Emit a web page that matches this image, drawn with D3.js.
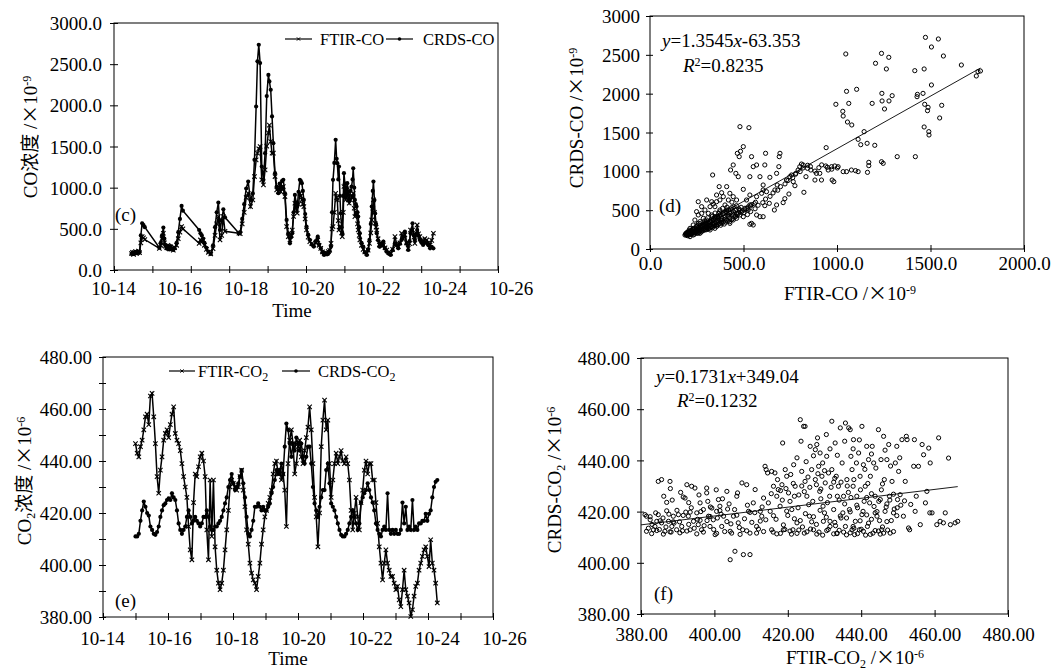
<!DOCTYPE html>
<html><head><meta charset="utf-8">
<script src="https://cdn.jsdelivr.net/npm/d3@7"></script>
<style>
body{margin:0;background:#fff}
svg{display:block}
</style>
</head><body>
<svg id="chart" width="1058" height="670"></svg>
<script>
// ---------------- DATA ----------------
const dayTickValues = [14, 16, 18, 20, 22, 24, 26];
const dayTickLabels = ["10-14", "10-16", "10-18", "10-20", "10-22", "10-24", "10-26"];

// Panel (c): CO time series (day of October, FTIR, CRDS in 1e-9)
const coTime = [
 14.56,14.59,14.62,14.65,14.68,14.71,14.74,14.77,14.80,14.84,
 14.88,14.92,14.96,15.40,15.44,15.48,15.52,15.55,15.58,15.62,
 15.66,15.70,15.74,15.78,15.82,15.86,15.92,15.97,16.02,16.07,
 16.11,16.60,16.64,16.68,16.72,16.76,16.82,16.88,16.95,17.02,
 17.08,17.13,17.18,17.23,17.28,17.33,17.38,17.80,17.84,17.90,
 17.96,18.02,18.08,18.15,18.22,18.27,18.32,18.36,18.40,18.44,
 18.49,18.54,18.59,18.64,18.69,18.72,18.76,18.80,18.84,18.89,
 18.94,18.99,19.03,19.06,19.10,19.14,19.19,19.24,19.29,19.34,
 19.38,19.41,19.45,19.49,19.53,19.56,19.60,19.64,19.67,19.70,
 19.73,19.76,19.80,19.84,19.89,19.94,20.00,20.06,20.12,20.18,
 20.22,20.27,20.32,20.37,20.42,20.46,20.50,20.54,20.58,20.61,
 20.64,20.68,20.72,20.75,20.77,20.80,20.82,20.85,20.87,20.90,
 20.92,20.95,20.97,21.00,21.02,21.05,21.07,21.10,21.13,21.17,
 21.20,21.23,21.25,21.28,21.30,21.33,21.35,21.38,21.40,21.43,
 21.45,21.50,21.55,21.60,21.66,21.70,21.74,21.78,21.81,21.84,
 21.86,21.89,21.91,21.94,21.96,22.00,22.04,22.08,22.12,22.16,
 22.21,22.26,22.32,22.38,22.44,22.51,22.56,22.61,22.66,22.71,
 22.76,22.81,22.86,22.91,22.95,22.98,23.04,23.08,23.11,23.15,
 23.18,23.22,23.26,23.31,23.36,23.41,23.47,23.52,23.57,23.62,23.67];
const coFTIR = [
 200,215,190,210,225,200,215,230,210,330,
 405,390,370,263,300,380,446,330,290,270,
 300,255,280,265,240,270,300,380,460,527,
 500,324,365,340,365,300,250,215,195,260,
 420,560,649,365,420,650,470,446,440,560,
 700,880,930,770,850,1135,1338,1420,1473,1500,
 1095,1034,1216,1505,1665,1760,1560,1419,1419,1135,
 973,953,1000,953,980,1014,892,527,405,365,
 420,486,650,811,740,689,800,932,900,851,
 800,770,620,486,400,345,320,304,330,365,
 300,263,220,203,210,200,223,240,324,500,
 527,700,932,880,851,600,486,520,527,450,
 405,700,1014,900,851,900,973,850,811,850,
 900,880,932,750,649,700,689,560,486,420,
 365,300,250,220,203,240,324,450,608,750,
 851,700,568,520,486,380,304,330,290,304,
 270,243,215,203,250,405,320,284,330,446,
 380,426,330,263,320,486,486,400,324,420,
 547,440,405,360,345,380,365,330,304,360,446];
const coCRDS = [
 195,210,205,200,215,220,205,225,215,420,
 568,545,520,270,330,420,515,380,300,260,
 285,250,290,255,245,265,330,460,620,778,
 720,486,446,420,380,330,270,225,195,300,
 520,700,819,486,600,738,640,446,460,620,
 800,990,1074,850,930,1338,1986,2534,2736,2513,
 1257,1095,1419,2112,2369,2290,2189,1865,1540,1176,
 1014,932,1050,1014,1080,1095,932,608,446,324,
 400,446,700,912,820,770,950,1095,1080,1054,
 960,851,680,527,430,365,310,284,350,405,
 310,263,215,182,195,190,203,230,284,700,
 1095,1300,1581,1350,1297,1100,1257,900,689,520,
 446,900,1176,1050,932,1000,1054,950,851,960,
 1014,1100,1236,1000,851,800,770,700,649,520,
 446,330,284,215,182,250,365,560,770,960,
 1074,850,689,560,446,360,284,320,300,345,
 260,223,200,182,240,324,300,263,320,365,
 400,466,320,243,350,446,568,420,365,440,
 486,420,365,330,304,340,324,300,263,280,263];

// Panel (e): CO2 time series, regular sampling (~1.19 h) from 10-15 00:00
const co2StartDay = 15.0;
const co2StepDay = 0.0495;
const co2FTIR = [
 446.7,443,441.6,445.5,448,452,457,458,454,465,
 466,457,446.7,434,427.6,436.5,441.6,448,450.6,452,
 449,454,458,460.8,450.6,448,446.7,444,439,434,
 430,426,414.8,405.8,402,424,435,434,437.8,441.6,
 443,440,434,413.5,402,432.7,411,432.7,407,398,
 393,390.5,393,398,405.8,413.5,421,430,432.7,431.4,
 430,428.8,430,434,436.5,428.8,422.4,413.5,408,400.7,
 396.9,394.3,393,390.5,395.6,400.7,408,413.5,418.5,421,
 423.7,426,428.8,435,439,440,435,436.5,432.7,435,
 428.8,414.8,439,448,452,446.7,435,439,445.5,448,
 441.6,439,444,449,453,460.8,452,439,426,418.5,
 407,420,445.5,455.7,463.4,452,455.7,439,426,432.7,
 439,443,439,441.6,444,440,439,441.6,439,432.7,
 421,413.5,420,426,418.5,413.5,424,428.8,436.5,440,
 435,439,439,432.7,432.7,424,416,407,400.7,394.3,
 400.7,405.8,400.7,398,395.6,395.6,393,390.5,391.8,386.6,
 384,390.5,398,390.5,388,385.4,380.2,382.8,388,391.8,
 393,398,400.7,403.3,405.8,407,403.3,399.4,409.7,400.7,
 398,393,385.4];
const co2CRDS = [
 411,411,412,417,421,424.4,422.4,420,419,414.8,
 413.5,412,411.6,412.7,414.8,418.5,421,423,423.7,425,
 425.6,425,427.6,426,425,421,416,413.5,412,413.5,
 414.8,418.5,421,418.5,416,417,418.5,417,416,414.8,
 416,418.5,418.5,421,418.5,414.8,413.5,413.5,414.8,414.8,
 416,417,418.5,421,423.7,426,430,432.7,435,431.4,
 428.8,430,431.4,434,436.5,431.4,426,418.5,412,411,
 413.5,417,422.4,422.4,423.7,422.4,421,422.4,421,421,
 422.4,423.7,427.6,430,432.7,436.5,435,436.5,439,435,
 445.5,454.4,452,446.7,441.6,446.7,444,449,446.7,444,
 446.7,441.6,439,441.6,445.5,445.5,439,430,423.7,421,
 418.5,422.4,426,428.8,428.8,436.5,439,431.4,423.7,422.4,
 421,418.5,416,413.5,411.6,411,411,412,413.5,416,
 418.5,421,418.5,416,413.5,416,424,426,427.6,428.8,
 431.4,428.8,426,424,421,416,413.5,412,411,413.5,
 414.8,413.5,427.6,413.5,412,413.5,412,413.5,412,412,
 413.5,424,416,422.4,413.5,414.8,413.5,425,413.5,414.8,
 413.5,416,416,417,417,419.7,417,419.7,421,426,
 430,432,432.7];

// Panel (d): scatter FTIR-CO vs CRDS-CO [x, y]
const coScatter = [
 [1473,2725],[1542,2704],[1505,2601],[1569,2485],[1466,2318],[1416,2296],[1665,2369],[1754,2283],[1767,2292],[1745,2228],
 [1505,2112],[1430,1991],[1428,1961],[1460,2004],[1469,1863],[1487,1824],[1484,1781],[1560,1850],[1549,1687],[1466,1571],
 [1491,1511],[1492,1468],[1419,1189],[1047,2511],[1051,2030],[1105,2056],[1206,2391],[1238,2519],[1277,2468],[1264,2318],
 [1240,2004],[1241,1906],[1295,1974],[1278,1906],[1254,1803],[1188,1875],[994,1863],[1063,1875],[1031,1773],[1033,1712],
 [1056,1635],[1079,1597],[1113,1412],[1145,1511],[1127,1343],[1161,1361],[1202,1335],[1322,1189],[1238,1124],[1247,1103],
 [1170,1116],[1170,1073],[1163,987],[1099,1009],[1051,996],[1033,996],[988,1069],[971,1060],[1006,1060],[953,1017],
 [974,888],[983,867],[942,1305],[940,1069],[908,974],[917,888],[882,888],[890,974],[860,1017],[842,1039],
 [819,1082],[810,1094],[801,1060],[834,931],[823,730],[780,974],[775,815],[757,953],[743,708],[721,648],
 [712,597],[689,1060],[695,1232],[691,1189],[677,974],[680,824],[668,760],[641,923],[618,1232],[614,1082],
 [605,824],[588,931],[570,1082],[552,1060],[543,1189],[534,931],[499,1318],[484,1258],[467,1232],[477,1189],
 [481,1575],[529,1562],[335,953],[431,1017],[472,931],[445,1082],[459,974],[410,803],[383,725],[370,803],
 [499,768],[534,695],[570,674],[597,717],[605,760],[623,738],[614,558],[605,416],[588,416],[570,438],
 [665,502],[677,567],[638,588],[445,674],[463,631],[427,717],[419,631],[392,674],[338,579],[347,545],
 [321,545],[534,318],[543,330],[552,309],[499,416],[481,438],[463,459],[454,425],[427,459],[410,502],
 [508,524],[525,502],[534,567],[516,631],[356,609],[374,502],[392,459],[427,395],[410,373],[383,373],
 [365,395],[347,416],[330,438],[312,459],[294,502],[276,459],[249,481],[258,438],[285,395],[303,373],
 [321,352],[338,330],[356,309],[330,288],[303,279],[276,288],[258,330],[240,373],[231,309],[222,245],
 [214,223],[205,202],[196,180],[187,180],[205,180],[222,202],[240,223],[258,245],[276,245],[294,245],
 [312,266],[249,202],[267,202],[231,180],[214,159],[196,202],[285,309],[321,245],[347,266],[374,330],
 [392,352],[249,288],[267,352],[294,339],[231,266],[214,266],[427,330],[445,373],[463,395],[368,459],
 [401,567],[303,631],[330,609],[374,631],[276,545],[258,609],[356,695],[730,888],[748,931],[766,867],
 [792,1017],[1077,1017],[1113,996],[190,190],[201,196],[212,208],[219,217],[228,232],[243,238],[252,251],
 [262,258],[271,277],[282,288],[291,303],[298,318],[311,333],[322,338],[331,362],[342,377],[351,404],
 [362,418],[200,171],[221,188],[239,207],[261,214],[279,232],[302,249],[318,272],[341,297],[359,332],
 [381,348],[402,383],[418,421],[441,447],[209,243],[232,258],[251,302],[268,327],[292,362],[308,402],
 [333,418],[348,463],[372,478],[388,523],[412,538],[438,603],[462,557],[478,503],[502,468],[521,443],
 [538,482],[562,518],[578,563],[603,597],[618,643],[642,678],[658,722],[683,757],[698,803],[722,838],
 [738,882],[763,918],[778,963],[803,997],[818,1043],[843,1078],[858,1062],[882,1003],[903,1047],[918,1083],
 [948,1052],[972,1028],[1002,1043],
 [194,186],[206,193],[217,199],[226,207],[233,216],[247,224],[254,233],[266,243],[273,256],[287,263],
 [296,277],[304,284],[317,299],[324,311],[336,316],[346,334],[354,347],[367,358],[376,373],[384,392],
 [397,404],[404,421],[416,438],[427,456],[434,471],[446,478],[457,497],[463,512],[476,518],[487,537],
 [198,214],[207,227],[219,236],[227,249],[239,261],[247,272],[259,281],[267,296],[279,304],[289,319],
 [297,331],[309,343],[319,356],[327,371],[339,388],[347,399],[357,412],[369,423],[377,442],[389,453],
 [399,472],[407,483],[419,502],[429,513],[437,532],[449,544],[192,201],[203,209],[211,182],[223,196],
 [237,189],[245,211],[257,204],[263,229],[274,219],[286,241],[294,254],[307,267],[315,261],[327,286],
 [334,274],[347,302],[357,291],[364,316],[378,306],[385,331],[397,321],[404,346],[417,361],[425,352],
 [437,378],[444,396],[458,418],[467,441],[474,462],[488,473],[494,492],[507,503],[518,521],[524,541],
 [538,553],[544,572],[558,583],[564,602]];

// Panel (f): scatter FTIR-CO2 vs CRDS-CO2 [x, y]
const co2Scatter = [
 [381.1,418.8],[381.5,418.2],[382.5,416.8],[383.4,412.9],[383.8,414.2],[384.3,416.2],[384.7,431.8],[385.6,432.5],[384.7,418.8],[385.6,415.6],
 [386.5,412.3],[387.0,423.6],[387.9,431.8],[387.5,416.2],[388.4,414.2],[388.8,418.2],[389.7,412.9],[390.2,418.8],[391.1,414.2],[391.5,425.7],
 [392.0,425.3],[392.5,430.5],[392.9,418.2],[393.4,412.9],[393.8,429.9],[394.3,416.2],[394.7,429.2],[395.2,419.5],[395.6,414.9],[396.1,423.4],
 [396.5,412.9],[397.0,420.8],[397.9,429.2],[397.9,427.3],[398.4,418.2],[398.8,414.2],[399.3,421.4],[399.7,416.8],[400.2,411.0],[400.6,420.1],
 [401.1,424.7],[401.5,422.1],[402.0,414.2],[402.5,418.2],[403.4,427.9],[404.3,401.2],[404.7,411.6],[405.2,418.2],[405.6,404.5],[406.1,426.0],
 [406.3,427.3],[406.5,415.6],[407.5,431.2],[407.7,412.9],[407.9,403.2],[408.8,430.5],[409.3,420.1],[409.7,403.2],[409.7,411.6],[410.6,423.4],
 [411.1,428.6],[411.5,414.2],[412.5,420.1],[412.9,418.2],[413.4,425.3],[413.8,437.7],[414.1,436.4],[414.5,435.1],[414.7,423.4],[415.2,420.1],
 [415.6,435.7],[415.6,412.9],[416.1,429.9],[416.5,435.1],[417.0,426.0],[417.4,428.6],[417.9,422.1],[418.4,430.5],[418.6,446.8],[418.8,412.9],
 [419.3,436.4],[419.7,433.8],[420.2,427.3],[420.6,424.0],[421.1,420.8],[421.4,412.9],[421.6,438.3],[422.0,429.9],[422.5,415.6],[423.4,455.9],
 [423.6,447.5],[423.8,435.7],[424.3,453.3],[424.7,453.3],[424.7,431.8],[425.2,426.0],[425.7,422.7],[425.9,418.2],[426.1,445.5],[426.5,436.4],
 [427.0,412.9],[427.5,444.2],[427.5,432.5],[427.9,446.2],[428.1,448.8],[428.4,437.7],[428.7,427.9],[428.8,442.9],[429.3,433.8],[429.6,422.1],
 [429.7,416.2],[430.2,431.2],[430.5,450.1],[430.6,441.6],[431.1,435.1],[431.4,426.0],[431.5,414.2],[432.0,455.3],[432.0,436.4],[432.5,420.8],
 [432.9,446.8],[433.2,433.8],[433.4,411.6],[433.8,429.9],[434.3,452.7],[434.5,417.5],[434.8,439.0],[435.2,426.0],[435.7,454.6],[435.7,414.2],
 [436.1,432.5],[436.6,452.7],[436.8,420.8],[437.0,452.0],[437.2,441.6],[437.5,436.4],[437.8,429.9],[437.9,448.1],[438.2,411.0],[438.4,416.2],
 [438.7,439.0],[438.8,426.0],[439.3,442.9],[439.5,412.9],[439.7,433.8],[440.2,453.3],[440.5,420.1],[440.6,438.3],[441.1,429.9],[441.5,445.5],
 [441.7,414.2],[442.0,440.3],[442.3,423.4],[442.5,433.8],[443.0,445.5],[443.2,411.6],[443.4,439.0],[443.8,426.0],[444.3,418.2],[444.7,452.0],
 [445.2,424.7],[445.4,440.3],[445.6,412.9],[446.1,449.4],[446.3,432.5],[446.5,420.1],[447.0,440.3],[447.5,446.2],[447.7,426.0],[447.9,411.6],
 [448.4,431.8],[448.8,419.5],[449.3,439.0],[449.7,445.5],[449.9,424.7],[450.2,435.7],[450.6,426.6],[451.1,448.1],[451.5,418.2],[452.0,431.8],
 [452.3,449.4],[452.5,448.1],[452.9,413.6],[453.2,412.9],[454.3,437.7],[454.5,448.1],[454.7,420.1],[455.6,437.7],[456.1,414.9],[456.6,446.2],
 [457.0,442.2],[457.5,423.4],[457.9,427.9],[458.4,444.8],[458.7,419.5],[458.8,439.0],[459.3,419.5],[460.6,414.9],[461.1,448.8],[461.5,416.2],
 [462.4,415.6],[462.9,419.5],[463.8,440.9],[464.3,414.9],[465.6,415.6],[466.3,416.2],
 [381.5,412.3],[382.9,411.4],[384.3,412.6],[386.1,411.2],[387.9,412.1],[390.6,411.7],[392.5,412.4],[395.2,411.3],[397.0,412.0],[400.6,411.5],
 [404.3,412.3],[407.0,411.1],[408.8,412.5],[411.5,411.6],[413.4,412.2],[417.0,411.3],[420.6,412.4],[422.5,411.5],[425.2,412.1],[427.9,411.2],
 [430.6,412.6],[433.4,411.4],[435.2,412.0],[437.0,411.7],[440.6,412.3],[442.5,411.1],[444.7,412.4],[446.1,411.6],[448.8,412.2],
 [382.5,418.0],[385.2,416.4],[387.0,420.3],[388.8,416.0],[391.5,418.5],[393.4,419.8],[396.1,416.6],[398.8,418.1],[401.5,420.4],[403.4,416.1],
 [406.1,418.6],[409.7,419.7],[412.5,416.3],[416.1,418.4],[419.7,420.2],[423.4,416.5],[427.0,418.0],[428.8,420.5],[431.5,416.2],[434.3,418.3],
 [437.0,419.9],[439.7,416.4],[441.5,418.7],[444.3,420.0],[447.0,416.1],[449.7,418.4],
 [418.0,428.2],[421.5,431.0],[423.0,426.5],[426.0,429.5],[429.0,425.0],[432.5,431.5],[434.0,424.5],[436.5,427.5],[439.0,421.5],[441.5,425.5],
 [443.5,422.0],[445.5,428.5],[447.0,423.0],[449.0,421.0],[420.0,418.5],[424.0,414.0],[426.5,416.0],[430.0,419.5],[433.0,414.5],[436.0,417.5],
 [438.0,413.5],[442.0,415.5],[445.0,416.5],
 [382.0,413.5],[383.0,415.0],[384.0,419.5],[385.0,413.0],[386.0,417.5],[386.8,414.0],[387.6,419.0],[388.2,412.0],[389.0,415.5],[389.8,420.5],
 [390.5,416.0],[391.3,412.5],[392.2,419.8],[393.0,415.0],[393.7,421.5],[394.5,413.5],[395.4,417.0],[396.3,420.0],[397.2,414.5],[398.0,416.5],
 [398.9,421.8],[399.8,413.0],[400.8,417.5],[401.8,419.0],[402.8,412.2],[403.6,421.0],[404.5,415.2],[405.5,420.8],[406.8,413.8],[408.2,417.2],
 [409.0,422.5],[410.2,415.8],[411.0,419.6],[412.0,413.2],[413.0,421.8],[414.0,416.8],
 [386.2,426.0],[388.5,424.5],[390.8,427.5],[393.0,423.5],[395.8,426.5],[398.2,424.0],[400.5,428.5],[402.2,425.0],[404.0,423.0],[388.0,429.0],
 [416.0,412.0],[418.0,411.5],[419.2,413.0],[421.0,411.2],[423.0,412.8],[424.5,411.6],[426.2,413.2],[428.5,412.0],[429.5,410.8],[431.0,413.0],
 [432.5,411.3],[434.0,412.7],[436.0,410.9],[437.5,412.9],[439.0,411.4],[440.0,413.1],[441.2,410.8],[443.8,412.6],[445.2,411.2],[447.2,412.8],
 [415.5,427.0],[417.2,432.5],[418.5,424.5],[419.5,429.0],[420.8,434.5],[421.8,426.0],[422.8,421.5],[423.8,430.0],[424.5,427.8],[425.5,433.5],
 [426.8,424.0],[427.8,430.5],[428.2,434.8],[429.0,428.8],[430.0,436.0],[430.8,423.5],[431.8,429.5],[432.8,433.0],[433.5,426.0],[434.5,431.5],
 [435.5,423.0],[436.2,430.0],[437.2,425.5],[438.0,432.5],[438.8,422.5],[439.8,428.5],[440.8,424.0],[441.8,431.0],[442.8,427.0],[443.8,419.5],
 [444.8,424.0],[445.8,430.8],[446.8,421.8],[447.8,424.5],[448.8,426.8],[449.8,421.5],[450.8,422.5],[451.8,424.2],[453.5,422.8],[455.0,426.0],
 [416.8,417.0],[418.8,414.8],[421.8,417.2],[424.8,419.2],[427.8,415.0],[430.5,417.8],[432.8,415.8],[435.0,419.5],[437.8,414.2],[440.2,418.8],
 [442.8,417.0],[445.8,414.0],[448.2,416.5],
 [422.5,441.0],[425.0,439.5],[427.0,441.8],[429.5,439.0],[431.5,444.5],[433.5,442.0],[435.5,447.5],[437.8,444.5],[439.5,448.0],[441.0,436.5],
 [442.8,442.5],[444.0,437.0],[446.5,444.0],[448.0,437.8],[450.5,441.0]];

// Regression fits shown on the chart
const coFit = {slope: 1.3545, intercept: -63.353, label: "1.3545", tail: "-63.353", r2: "0.8235"};
const co2Fit = {slope: 0.1731, intercept: 349.04, label: "0.1731", tail: "+349.04", r2: "0.1232"};

const coYTicks = [0, 500, 1000, 1500, 2000, 2500, 3000];
const coXTicksScatter = [0, 500, 1000, 1500, 2000];
const co2Ticks = [380, 400, 420, 440, 460, 480];

// ---------------- DRAWING ----------------
const SERIF = '"Liberation Serif","Times New Roman",serif';
const CJK = '"Noto Sans CJK SC","Noto Sans CJK JP",sans-serif';
const FS = 19;
const svg = d3.select("#chart").attr("font-family", SERIF);

function styleAxis(g, orient, inLen, outLen) {
  g.select(".domain").remove();
  g.attr("font-family", SERIF).attr("font-size", FS);
  g.selectAll("text").attr("fill", "#000");
  const l = g.selectAll(".tick line").attr("stroke", "#000").attr("stroke-width", 1);
  if (orient === "bottom") l.attr("y1", -inLen).attr("y2", outLen);
  else l.attr("x1", inLen).attr("x2", -outLen);
}
function frame(b) {
  svg.append("rect").attr("x", b.L).attr("y", b.T).attr("width", b.R - b.L).attr("height", b.B - b.T)
    .attr("fill", "none").attr("stroke", "#000").attr("stroke-width", 1);
}
function rich(sel, parts) {
  let shift = 0;
  parts.forEach(p => {
    const ts = sel.append("tspan").text(p.t);
    const target = p.sup ? -6.5 : (p.sub ? 4 : 0);
    if (target !== shift) { ts.attr("dy", target - shift); shift = target; }
    if (p.sup || p.sub) ts.attr("font-size", 12);
    if (p.cjk) ts.attr("font-family", CJK).attr("font-size", p.fs || 19);
    if (p.it) ts.attr("font-style", "italic");
  });
  return sel;
}
function label(x, y, parts, opts = {}) {
  const t = svg.append("text").attr("font-size", opts.fs || FS).attr("fill", "#000")
    .attr("text-anchor", opts.anchor || "start");
  if (opts.rotate) t.attr("transform", `translate(${x},${y}) rotate(-90)`);
  else t.attr("x", x).attr("y", y);
  return rich(t, parts);
}
function crossMarks(g, pts, size, sw) {
  g.selectAll("path.m").data(pts).join("path").attr("class", "m")
    .attr("d", d => `M${d[0]-size},${d[1]-size}L${d[0]+size},${d[1]+size}M${d[0]-size},${d[1]+size}L${d[0]+size},${d[1]-size}`)
    .attr("stroke", "#000").attr("stroke-width", sw || 1.1).attr("fill", "none");
}
function dotMarks(g, pts, r) {
  g.selectAll("circle.m").data(pts).join("circle").attr("class", "m")
    .attr("cx", d => d[0]).attr("cy", d => d[1]).attr("r", r).attr("fill", "#000");
}
function series(g, xs, ys, xScale, yScale, kind) {
  const pts = xs.map((t, i) => [xScale(t), yScale(ys[i])]);
  g.append("path").attr("d", d3.line()(pts)).attr("fill", "none").attr("stroke", "#000").attr("stroke-width", 1.5);
  const mg = g.append("g");
  if (kind === "x") crossMarks(mg, pts, 2.2, 1.1); else dotMarks(mg, pts, 2.1);
}
function legendItem(x1, x2, y, kind, tx, parts) {
  svg.append("line").attr("x1", x1).attr("x2", x2).attr("y1", y).attr("y2", y).attr("stroke", "#000").attr("stroke-width", 1.2);
  const g = svg.append("g");
  if (kind === "x") crossMarks(g, [[(x1 + x2) / 2, y]], 1.6, 1); else dotMarks(g, [[(x1 + x2) / 2, y]], 1.8);
  label(tx, y + 6, parts, {fs: 16.5});
}

// ===== Panel (c) =====
{
  const b = {L: 114, T: 23, R: 498, B: 270};
  const x = d3.scaleLinear().domain([14, 26]).range([113, 510.6]);
  const xTickMarks = d3.scaleLinear().domain([0, 10]).range([b.L, b.R]);
  const y = d3.scaleLinear().domain([0, 3000]).range([b.B, b.T]);
  const gl = svg.append("g").attr("transform", `translate(0,${b.B})`)
    .call(d3.axisBottom(x).tickValues(dayTickValues).tickFormat((d, i) => dayTickLabels[i]).tickSize(0));
  styleAxis(gl, "bottom", 0, 0);
  gl.selectAll("text").attr("y", 25).attr("dy", 0);
  gl.selectAll(".tick line").remove();
  const gt = svg.append("g").attr("transform", `translate(0,${b.B})`)
    .call(d3.axisBottom(xTickMarks).ticks(10).tickFormat(""));
  styleAxis(gt, "bottom", 4, 3);
  const gy = svg.append("g").attr("transform", `translate(${b.L},0)`)
    .call(d3.axisLeft(y).tickValues(coYTicks).tickFormat(d3.format(".1f")));
  styleAxis(gy, "left", 4, 4);
  gy.selectAll("text").attr("x", -12).attr("dy", "0.35em");
  frame(b);
  const g = svg.append("g");
  series(g, coTime, coFTIR, x, y, "x");
  series(g, coTime, coCRDS, x, y, "o");
  legendItem(285, 312, 39, "x", 320, [{t: "FTIR-CO"}]);
  legendItem(386, 413, 39, "o", 423, [{t: "CRDS-CO"}]);
  label(115, 221, [{t: "(c)"}]);
  label(292, 317, [{t: "Time"}], {anchor: "middle"});
  label(37, 137, [{t: "CO"}, {t: "浓度", cjk: true}, {t: " /"}, {t: "×", cjk: true}, {t: "10"}, {t: "-9", sup: true}], {anchor: "middle", rotate: true});
}

// ===== Panel (d) =====
{
  const b = {L: 650, T: 16, R: 1024, B: 249};
  const x = d3.scaleLinear().domain([0, 2000]).range([b.L, b.R]);
  const y = d3.scaleLinear().domain([0, 3000]).range([b.B, b.T]);
  const gx = svg.append("g").attr("transform", `translate(0,${b.B})`)
    .call(d3.axisBottom(x).tickValues(coXTicksScatter).tickFormat(d3.format(".1f")));
  styleAxis(gx, "bottom", 4, 3);
  gx.selectAll("text").attr("y", 21).attr("dy", 0);
  const gy = svg.append("g").attr("transform", `translate(${b.L},0)`)
    .call(d3.axisLeft(y).tickValues(coYTicks).tickFormat(d3.format("d")));
  styleAxis(gy, "left", 3, 4);
  gy.selectAll("text").attr("x", -10).attr("dy", "0.35em");
  frame(b);
  svg.append("g").selectAll("circle").data(coScatter).join("circle")
    .attr("cx", d => x(d[0])).attr("cy", d => y(d[1])).attr("r", 2.1)
    .attr("fill", "none").attr("stroke", "#000").attr("stroke-width", 1);
  const ext = d3.extent(coScatter, d => d[0]);
  svg.append("path").attr("d", d3.line()(ext.map(v => [x(v), y(coFit.slope * v + coFit.intercept)])))
    .attr("stroke", "#000").attr("stroke-width", 0.9).attr("fill", "none");
  label(662, 47, [{t: "y", it: true}, {t: "=" + coFit.label}, {t: "x", it: true}, {t: coFit.tail}]);
  label(683, 72, [{t: "R", it: true}, {t: "2", sup: true}, {t: "=" + coFit.r2}]);
  label(659, 212, [{t: "(d)"}]);
  label(850, 300, [{t: "FTIR-CO /"}, {t: "×", cjk: true}, {t: "10"}, {t: "-9", sup: true}], {anchor: "middle"});
  label(583, 118, [{t: "CRDS-CO /"}, {t: "×", cjk: true}, {t: "10"}, {t: "-9", sup: true}], {anchor: "middle", rotate: true});
}

// ===== Panel (e) =====
{
  const b = {L: 103, T: 357, R: 493, B: 617};
  const x = d3.scaleLinear().domain([14, 26]).range([102, 504]);
  const xTickMarks = d3.scaleLinear().domain([0, 12]).range([b.L, b.R]);
  const y = d3.scaleLinear().domain([380, 480]).range([b.B, b.T]);
  const gl = svg.append("g").attr("transform", `translate(0,${b.B})`)
    .call(d3.axisBottom(x).tickValues(dayTickValues).tickFormat((d, i) => dayTickLabels[i]).tickSize(0));
  styleAxis(gl, "bottom", 0, 0);
  gl.selectAll("text").attr("y", 28).attr("dy", 0);
  gl.selectAll(".tick line").remove();
  const gt = svg.append("g").attr("transform", `translate(0,${b.B})`)
    .call(d3.axisBottom(xTickMarks).ticks(12).tickFormat(""));
  styleAxis(gt, "bottom", 4, 3);
  const gy = svg.append("g").attr("transform", `translate(${b.L},0)`)
    .call(d3.axisLeft(y).tickValues(d3.range(380, 481, 10)).tickFormat(d => co2Ticks.includes(d) ? d3.format(".2f")(d) : ""));
  styleAxis(gy, "left", 3, 4);
  gy.selectAll("text").attr("x", -11).attr("dy", "0.35em");
  frame(b);
  const t = co2FTIR.map((_, i) => co2StartDay + i * co2StepDay);
  const g = svg.append("g");
  series(g, t, co2FTIR, x, y, "x");
  series(g, t, co2CRDS, x, y, "o");
  legendItem(169, 195, 371, "x", 198, [{t: "FTIR-CO"}, {t: "2", sub: true}]);
  legendItem(282, 310, 371, "o", 318, [{t: "CRDS-CO"}, {t: "2", sub: true}]);
  label(115, 607, [{t: "(e)"}]);
  label(288, 665, [{t: "Time"}], {anchor: "middle"});
  label(31, 481, [{t: "CO"}, {t: "2", sub: true}, {t: "浓度", cjk: true}, {t: " /"}, {t: "×", cjk: true}, {t: "10"}, {t: "-6", sup: true}], {anchor: "middle", rotate: true});
}

// ===== Panel (f) =====
{
  const b = {L: 641, T: 358, R: 1008, B: 614};
  const x = d3.scaleLinear().domain([380, 480]).range([b.L, b.R]);
  const y = d3.scaleLinear().domain([380, 480]).range([b.B, b.T]);
  const gx = svg.append("g").attr("transform", `translate(0,${b.B})`)
    .call(d3.axisBottom(x).tickValues(co2Ticks).tickFormat(d3.format(".2f")));
  styleAxis(gx, "bottom", 4, 3);
  gx.selectAll("text").attr("y", 27).attr("dy", 0);
  const gy = svg.append("g").attr("transform", `translate(${b.L},0)`)
    .call(d3.axisLeft(y).tickValues(co2Ticks).tickFormat(d3.format(".2f")));
  styleAxis(gy, "left", 3, 4);
  gy.selectAll("text").attr("x", -11).attr("dy", "0.35em");
  frame(b);
  svg.append("g").selectAll("circle").data(co2Scatter).join("circle")
    .attr("cx", d => x(d[0])).attr("cy", d => y(d[1])).attr("r", 2.1)
    .attr("fill", "none").attr("stroke", "#000").attr("stroke-width", 1);
  const ext = [380, d3.max(co2Scatter, d => d[0])];
  svg.append("path").attr("d", d3.line()(ext.map(v => [x(v), y(co2Fit.slope * v + co2Fit.intercept)])))
    .attr("stroke", "#000").attr("stroke-width", 0.9).attr("fill", "none");
  label(656, 383, [{t: "y", it: true}, {t: "=" + co2Fit.label}, {t: "x", it: true}, {t: co2Fit.tail}]);
  label(677, 407, [{t: "R", it: true}, {t: "2", sup: true}, {t: "=" + co2Fit.r2}]);
  label(654, 600, [{t: "(f)"}]);
  label(855, 664, [{t: "FTIR-CO"}, {t: "2", sub: true}, {t: " /"}, {t: "×", cjk: true}, {t: "10"}, {t: "-6", sup: true}], {anchor: "middle"});
  label(561, 480, [{t: "CRDS-CO"}, {t: "2", sub: true}, {t: " /"}, {t: "×", cjk: true}, {t: "10"}, {t: "-6", sup: true}], {anchor: "middle", rotate: true});
}
</script>
</body></html>
